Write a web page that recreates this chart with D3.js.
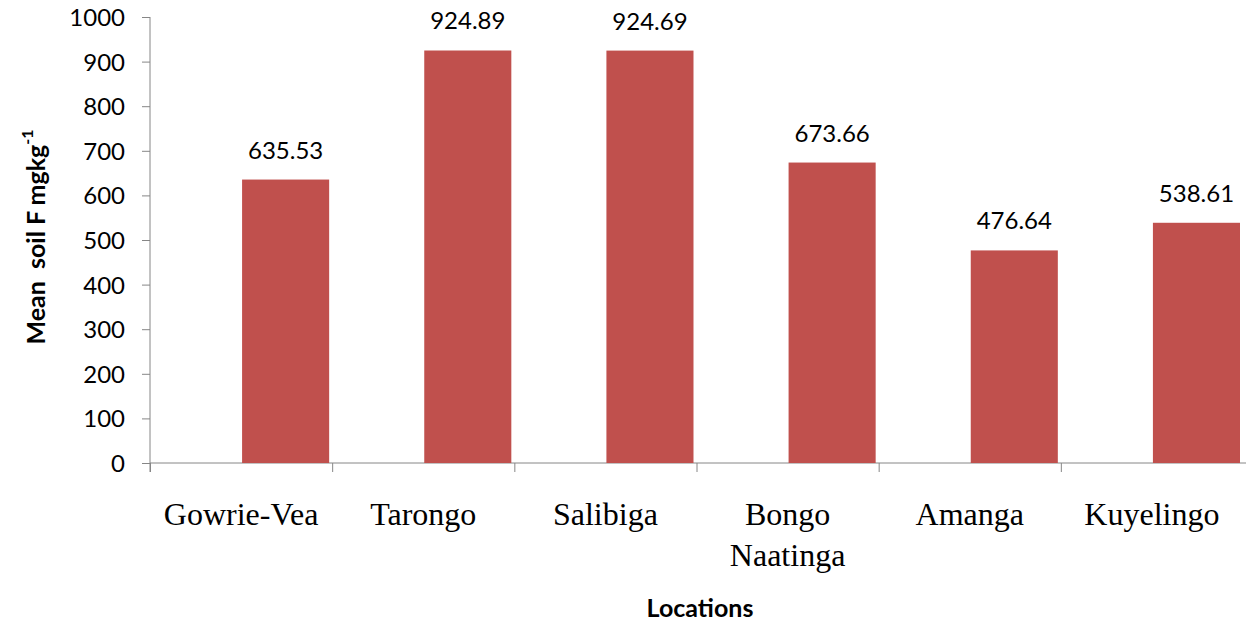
<!DOCTYPE html>
<html>
<head>
<meta charset="utf-8">
<script src="https://cdn.jsdelivr.net/npm/d3@7"></script>
<style>
  body { margin: 0; background: #fff; }
  svg { display: block; }
  .axis path, .axis line { stroke: #868686; }
  .num { font-family: Lato, "Open Sans", sans-serif; font-size: 24px; fill: #000; }
  .cat { font-family: "Liberation Serif", "DejaVu Serif", serif; font-size: 32px; fill: #000; }
  .ttl { font-family: Lato, "Open Sans", sans-serif; font-size: 25px; font-weight: bold; fill: #000; }
</style>
</head>
<body>
<svg id="chart" width="1246" height="624"></svg>
<script>
// data
const locations = [["Gowrie-Vea"], ["Tarongo"], ["Salibiga"], ["Bongo", "Naatinga"], ["Amanga"], ["Kuyelingo"]];
const meanF = [635.53, 924.89, 924.69, 673.66, 476.64, 538.61];
const yTicks = [0, 100, 200, 300, 400, 500, 600, 700, 800, 900, 1000];

const svg = d3.select("#chart");
const plotL = 150, plotR = 1243, plotT = 17, plotB = 463;

const names = locations.map(d => d.join(" "));
const x = d3.scaleBand().domain(names).range([plotL, plotR]);
const xEdge = d3.scaleLinear().domain([0, names.length]).range([plotL, plotR]);
const y = d3.scaleLinear().domain([0, 1000]).range([plotB, plotT]);
const bw = x.bandwidth();

// y axis
svg.append("g")
  .attr("class", "axis")
  .attr("transform", `translate(${plotL},0)`)
  .call(d3.axisLeft(y).tickValues(yTicks).tickSize(8).tickPadding(17).tickFormat(d3.format("d")))
  .call(g => g.attr("font-family", null).attr("font-size", null))
  .call(g => g.selectAll("text").attr("class", "num").attr("dy", "0.35em"))
  .call(g => g.select(".domain").attr("d", `M0,${plotT}V${plotB + 9}`));

// x axis with ticks between categories
svg.append("g")
  .attr("class", "axis")
  .attr("transform", `translate(0,${plotB})`)
  .call(d3.axisBottom(xEdge).tickValues(d3.range(0, names.length)).tickSize(9).tickFormat(""))
  .call(g => g.select(".domain").attr("d", `M${plotL},0H1246`));

// bars sit in the right half of each band
svg.append("g")
  .selectAll("rect")
  .data(meanF)
  .join("rect")
  .attr("x", (d, i) => x(names[i]) + bw / 2 + 1)
  .attr("width", bw * 0.478)
  .attr("y", d => y(d))
  .attr("height", d => y(0) - y(d))
  .attr("fill", "#C0504D");

// value labels
svg.append("g")
  .selectAll("text")
  .data(meanF)
  .join("text")
  .attr("class", "num")
  .attr("text-anchor", "middle")
  .attr("x", (d, i) => x(names[i]) + bw / 2 + 1 + bw * 0.239)
  .attr("y", d => y(d) - 21)
  .text(d => d.toFixed(2));

// category labels
const cats = svg.append("g")
  .selectAll("text")
  .data(locations)
  .join("text")
  .attr("class", "cat")
  .attr("text-anchor", "middle")
  .attr("x", (d, i) => x(names[i]) + bw / 2)
  .attr("y", 525);
cats.selectAll("tspan")
  .data(d => d)
  .join("tspan")
  .attr("x", function() { return this.parentNode.getAttribute("x"); })
  .attr("dy", (d, i) => i === 0 ? 0 : 41)
  .text(d => d);

// axis titles
svg.append("text")
  .attr("class", "ttl")
  .attr("text-anchor", "middle")
  .attr("x", 700)
  .attr("y", 617)
  .text("Locations");

const yt = svg.append("text")
  .attr("class", "ttl")
  .attr("text-anchor", "middle")
  .attr("transform", "translate(45,237) rotate(-90)")
  .style("white-space", "pre");
yt.append("tspan").text("Mean  soil F mgkg");
yt.append("tspan").attr("font-size", "16px").attr("dy", "-12").text("-1");
</script>
</body>
</html>
